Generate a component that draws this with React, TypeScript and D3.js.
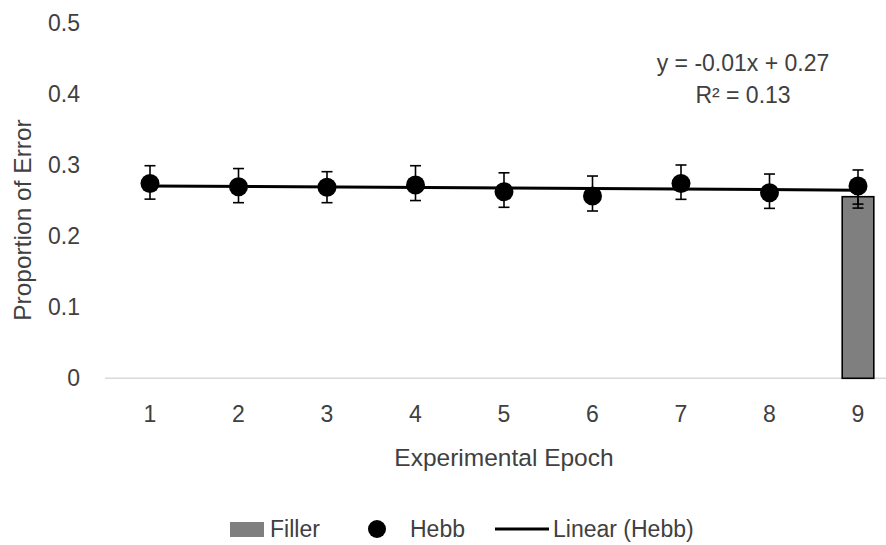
import * as d3 from 'd3';
import React, { useRef, useEffect } from 'react';

// values
const epochs = ['1', '2', '3', '4', '5', '6', '7', '8', '9'];
const hebbMean = [0.274, 0.2695, 0.2686, 0.272, 0.2625, 0.2564, 0.274, 0.261, 0.2705];
const hebbHigh = [0.299, 0.295, 0.2906, 0.299, 0.289, 0.2845, 0.300, 0.2873, 0.293];
const hebbLow = [0.252, 0.247, 0.247, 0.250, 0.2405, 0.2353, 0.2517, 0.239, 0.245];
const fillerEpochs = ['9'];
const fillerMean = [0.2554];
const fillerErr = [0.016];
const yTicks = [0, 0.1, 0.2, 0.3, 0.4, 0.5];
const trendLabel = ['y = -0.01x + 0.27', 'R² = 0.13'];

const width = 886;
const height = 545;
const font = "'Liberation Sans', Arial, sans-serif";

function App() {
  const ref = useRef(null);

  useEffect(() => {
    draw();
  }, []);

  const draw = () => {
    const svg = d3.select(ref.current);
    svg.selectAll('*').remove();

    const xScale = d3.scaleBand().domain(epochs).range([105.75, 902.25]);
    const yScale = d3.scaleLinear().domain([0, 0.5]).range([378.3, 22.8]);
    const cx = (d) => xScale(d) + xScale.bandwidth() / 2;

    svg.append('rect').attr('width', width).attr('height', height).attr('fill', '#fff');

    // y tick labels
    svg.append('g')
      .selectAll('text')
      .data(yTicks)
      .enter()
      .append('text')
      .attr('x', 80)
      .attr('y', (d) => yScale(d))
      .attr('dy', '0.35em')
      .attr('text-anchor', 'end')
      .attr('font-size', 23)
      .attr('fill', '#404040')
      .text((d) => (d === 0 ? '0' : d3.format('.1f')(d)));

    // x axis line
    svg.append('line')
      .attr('x1', 105).attr('x2', width)
      .attr('y1', yScale(0)).attr('y2', yScale(0))
      .attr('stroke', '#d9d9d9').attr('stroke-width', 1.5);

    // x tick labels
    svg.append('g')
      .selectAll('text')
      .data(epochs)
      .enter()
      .append('text')
      .attr('x', (d) => cx(d))
      .attr('y', 422)
      .attr('text-anchor', 'middle')
      .attr('font-size', 23)
      .attr('fill', '#404040')
      .text((d) => d);

    // filler bars
    const barW = xScale.bandwidth() * 0.357;
    svg.append('g')
      .selectAll('rect')
      .data(fillerEpochs)
      .enter()
      .append('rect')
      .attr('x', (d) => cx(d) - barW / 2)
      .attr('y', (d, i) => yScale(fillerMean[i]))
      .attr('width', barW)
      .attr('height', (d, i) => yScale(0) - yScale(fillerMean[i]))
      .attr('fill', '#7f7f7f')
      .attr('stroke', '#000')
      .attr('stroke-width', 1.6);

    const errBars = (g, keys, lo, hi) => {
      keys.forEach((k, i) => {
        const x = cx(k);
        g.append('line').attr('x1', x).attr('x2', x)
          .attr('y1', yScale(lo[i])).attr('y2', yScale(hi[i]));
        [lo[i], hi[i]].forEach((v) => {
          g.append('line').attr('x1', x - 5.5).attr('x2', x + 5.5)
            .attr('y1', yScale(v)).attr('y2', yScale(v));
        });
      });
    };

    const fillerErrG = svg.append('g').attr('stroke', '#000').attr('stroke-width', 1.6);
    errBars(fillerErrG, fillerEpochs,
      fillerMean.map((m, i) => m - fillerErr[i]),
      fillerMean.map((m, i) => m + fillerErr[i]));

    // linear trend of Hebb (least squares)
    const xs = epochs.map((e) => +e);
    const mx = d3.mean(xs);
    const my = d3.mean(hebbMean);
    const slope = d3.sum(xs, (x, i) => (x - mx) * (hebbMean[i] - my)) / d3.sum(xs, (x) => (x - mx) ** 2);
    const icpt = my - slope * mx;
    const first = epochs[0];
    const last = epochs[epochs.length - 1];
    svg.append('line')
      .attr('x1', cx(first)).attr('y1', yScale(icpt + slope * +first))
      .attr('x2', cx(last)).attr('y2', yScale(icpt + slope * +last))
      .attr('stroke', '#000').attr('stroke-width', 3);

    // hebb error bars + markers
    const hebbErrG = svg.append('g').attr('stroke', '#000').attr('stroke-width', 1.6);
    errBars(hebbErrG, epochs, hebbLow, hebbHigh);

    svg.append('g')
      .selectAll('circle')
      .data(epochs)
      .enter()
      .append('circle')
      .attr('cx', (d) => cx(d))
      .attr('cy', (d, i) => yScale(hebbMean[i]))
      .attr('r', 9.5)
      .attr('fill', '#000');

    // trend equation
    svg.append('g')
      .selectAll('text')
      .data(trendLabel)
      .enter()
      .append('text')
      .attr('x', 743)
      .attr('y', (d, i) => 71 + i * 32)
      .attr('text-anchor', 'middle')
      .attr('font-size', 23)
      .attr('fill', '#404040')
      .text((d) => d);

    // axis titles
    svg.append('text')
      .attr('x', 504).attr('y', 466)
      .attr('text-anchor', 'middle')
      .attr('font-size', 24.5)
      .attr('fill', '#404040')
      .text('Experimental Epoch');

    svg.append('text')
      .attr('transform', 'translate(31, 220) rotate(-90)')
      .attr('text-anchor', 'middle')
      .attr('font-size', 24.5)
      .attr('fill', '#404040')
      .text('Proportion of Error');

    // legend
    const leg = svg.append('g').attr('font-size', 23).attr('fill', '#404040');
    leg.append('rect').attr('x', 230).attr('y', 522).attr('width', 34).attr('height', 15).attr('fill', '#7f7f7f');
    leg.append('text').attr('x', 270).attr('y', 537).text('Filler');
    leg.append('circle').attr('cx', 377).attr('cy', 529).attr('r', 9).attr('fill', '#000');
    leg.append('text').attr('x', 410).attr('y', 537).text('Hebb');
    leg.append('line').attr('x1', 495).attr('x2', 549).attr('y1', 529).attr('y2', 529)
      .attr('stroke', '#000').attr('stroke-width', 3);
    leg.append('text').attr('x', 553).attr('y', 537).text('Linear (Hebb)');
  };

  return (
    <svg
      ref={ref}
      width={width}
      height={height}
      style={{ position: 'absolute', left: 0, top: 0, fontFamily: font }}
    ></svg>
  );
}

export default App;
